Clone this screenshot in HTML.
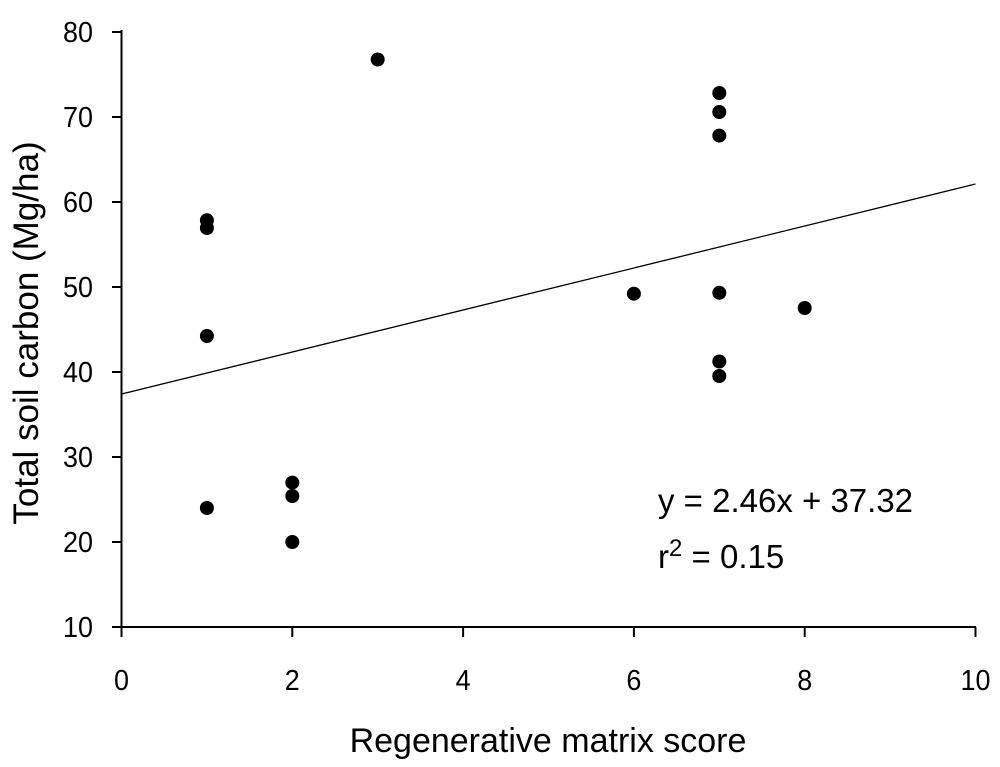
<!DOCTYPE html>
<html><head><style>body{margin:0;background:#fff}text{font-family:"Liberation Sans",sans-serif}</style></head><body>
<svg width="1000" height="762" xmlns="http://www.w3.org/2000/svg" fill="#000">
<g stroke="#000" stroke-width="2">
<line x1="121.5" y1="30" x2="121.5" y2="637"/>
<line x1="112" y1="627" x2="976" y2="627"/>
<line x1="112" y1="32" x2="121.5" y2="32"/>
<line x1="112" y1="117" x2="121.5" y2="117"/>
<line x1="112" y1="202" x2="121.5" y2="202"/>
<line x1="112" y1="287" x2="121.5" y2="287"/>
<line x1="112" y1="372" x2="121.5" y2="372"/>
<line x1="112" y1="457" x2="121.5" y2="457"/>
<line x1="112" y1="542" x2="121.5" y2="542"/>
<line x1="292.3" y1="627" x2="292.3" y2="637"/>
<line x1="463.1" y1="627" x2="463.1" y2="637"/>
<line x1="633.9" y1="627" x2="633.9" y2="637"/>
<line x1="804.7" y1="627" x2="804.7" y2="637"/>
<line x1="975.5" y1="627" x2="975.5" y2="637"/>
</g>
<line x1="121.5" y1="394" x2="975.5" y2="184" stroke="#000" stroke-width="1.3"/>
<g style="font-size:29px">
<text x="63" y="42" textLength="30" lengthAdjust="spacingAndGlyphs">80</text>
<text x="63" y="127" textLength="30" lengthAdjust="spacingAndGlyphs">70</text>
<text x="63" y="212" textLength="30" lengthAdjust="spacingAndGlyphs">60</text>
<text x="63" y="297" textLength="30" lengthAdjust="spacingAndGlyphs">50</text>
<text x="63" y="382" textLength="30" lengthAdjust="spacingAndGlyphs">40</text>
<text x="63" y="467" textLength="30" lengthAdjust="spacingAndGlyphs">30</text>
<text x="63" y="552" textLength="30" lengthAdjust="spacingAndGlyphs">20</text>
<text x="63" y="637" textLength="30" lengthAdjust="spacingAndGlyphs">10</text>
<text x="114" y="690" textLength="15" lengthAdjust="spacingAndGlyphs">0</text>
<text x="284.8" y="690" textLength="15" lengthAdjust="spacingAndGlyphs">2</text>
<text x="455.6" y="690" textLength="15" lengthAdjust="spacingAndGlyphs">4</text>
<text x="626.4" y="690" textLength="15" lengthAdjust="spacingAndGlyphs">6</text>
<text x="797.2" y="690" textLength="15" lengthAdjust="spacingAndGlyphs">8</text>
<text x="960.5" y="690" textLength="30" lengthAdjust="spacingAndGlyphs">10</text>
</g>
<text x="548" y="752" text-anchor="middle" style="font-size:34px">Regenerative matrix score</text>
<text transform="translate(38,333) rotate(-90)" text-anchor="middle" style="font-size:35px">Total soil carbon (Mg/ha)</text>
<text x="658" y="512" style="font-size:33px">y = 2.46x + 37.32</text>
<text x="658" y="568" style="font-size:33px">r<tspan style="font-size:24px" dy="-12">2</tspan><tspan dy="12"> = 0.15</tspan></text>
<g>
<circle cx="206.9" cy="220.3" r="7"/><circle cx="206.9" cy="228" r="7"/><circle cx="206.9" cy="336" r="7"/><circle cx="206.9" cy="508" r="7"/>
<circle cx="292.3" cy="482.6" r="7"/><circle cx="292.3" cy="496" r="7"/><circle cx="292.3" cy="542" r="7"/>
<circle cx="377.7" cy="59.5" r="7"/><circle cx="633.9" cy="293.7" r="7"/>
<circle cx="719.3" cy="93" r="7"/><circle cx="719.3" cy="112" r="7"/><circle cx="719.3" cy="135.6" r="7"/>
<circle cx="719.3" cy="292.8" r="7"/><circle cx="719.3" cy="361.5" r="7"/><circle cx="719.3" cy="376" r="7"/>
<circle cx="804.7" cy="308" r="7"/>
</g>
</svg>
</body></html>
